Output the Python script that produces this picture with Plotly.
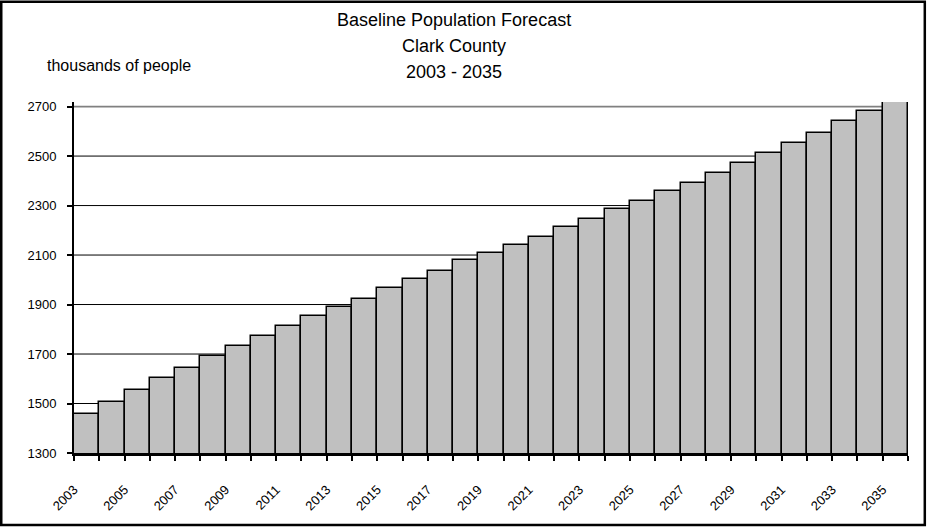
import plotly.graph_objects as go

# Baseline population forecast, Clark County (thousands of people)
years = list(range(2003, 2036))
population = [1457, 1505, 1553, 1602, 1642, 1691, 1731, 1771, 1812, 1852,
              1892, 1924, 1965, 2005, 2037, 2078, 2110, 2142, 2174, 2215,
              2247, 2287, 2320, 2360, 2392, 2432, 2473, 2513, 2553, 2594,
              2642, 2682, 2725]
y_ticks = [1300, 1500, 1700, 1900, 2100, 2300, 2500, 2700]
title_lines = ["Baseline Population Forecast", "Clark County", "2003 - 2035"]
unit_label = "thousands of people"

W, H = 930, 527
L, R, T, B = 74, 22, 101.7, 73.5
plot_w = W - L - R
plot_h = H - T - B
y_min, y_max = 1300, 2718.5

FONT = "Liberation Sans, Arial, sans-serif"


def px_x(px):
    return (px - L) / plot_w


def px_y(py):
    return (H - B - py) / plot_h


# tick marks sit on every bar boundary; odd years are labelled at the
# left boundary of their bar
boundaries = [y - 0.5 for y in years] + [years[-1] + 0.5]
boundary_text = [str(y) if (y - years[0]) % 2 == 0 else "" for y in years] + [""]

fig = go.Figure(
    go.Bar(
        x=years,
        y=population,
        width=1,
        marker=dict(color="#c0c0c0", line=dict(color="black", width=1.5)),
        hoverinfo="x+y",
    )
)

fig.update_layout(
    width=W,
    height=H,
    margin=dict(l=L, r=R, t=T, b=B, pad=0),
    paper_bgcolor="white",
    plot_bgcolor="white",
    showlegend=False,
    bargap=0,
    font=dict(family=FONT, color="black"),
)

fig.update_xaxes(
    range=[years[0] - 0.5, years[-1] + 0.5],
    tickmode="array",
    tickvals=boundaries,
    ticktext=boundary_text,
    tickangle=-45,
    tickfont=dict(size=13, family=FONT),
    ticks="outside",
    ticklen=5,
    tickwidth=2,
    tickcolor="black",
    ticklabelstandoff=16,
    showline=True,
    linecolor="black",
    linewidth=3,
    showgrid=False,
    zeroline=False,
    automargin=False,
)

fig.update_yaxes(
    range=[y_min, y_max],
    tickmode="array",
    tickvals=y_ticks,
    ticktext=[str(v) for v in y_ticks],
    tickfont=dict(size=13, family=FONT),
    ticks="outside",
    ticklen=5,
    tickwidth=1.5,
    tickcolor="black",
    ticklabelstandoff=8,
    showline=True,
    linecolor="black",
    linewidth=2,
    showgrid=False,
    zeroline=False,
    automargin=False,
)

# horizontal gridlines: black, with the top one in grey
for v in y_ticks[1:]:
    top = v == y_ticks[-1]
    fig.add_shape(
        type="line", xref="paper", yref="y", x0=0, x1=1, y0=v, y1=v,
        line=dict(color="#808080" if top else "black", width=1.6 if top else 1),
        layer="between",
    )

# outer chart border
fig.add_shape(
    type="rect", xref="paper", yref="paper",
    x0=px_x(1.25), x1=px_x(924.8), y0=px_y(525.6), y1=px_y(1.25),
    line=dict(color="black", width=2.5), fillcolor="rgba(0,0,0,0)", layer="above",
)

# three-line title
for text, cy in zip(title_lines, [19.5, 45.5, 72]):
    fig.add_annotation(
        text=text, xref="paper", yref="paper", x=px_x(454), y=px_y(cy),
        xanchor="center", yanchor="middle", showarrow=False,
        font=dict(size=18, family=FONT, color="black"),
    )

fig.add_annotation(
    text=unit_label, xref="paper", yref="paper", x=px_x(119), y=px_y(65.5),
    xanchor="center", yanchor="middle", showarrow=False,
    font=dict(size=16, family=FONT, color="black"),
)

fig.write_html("out.html")
